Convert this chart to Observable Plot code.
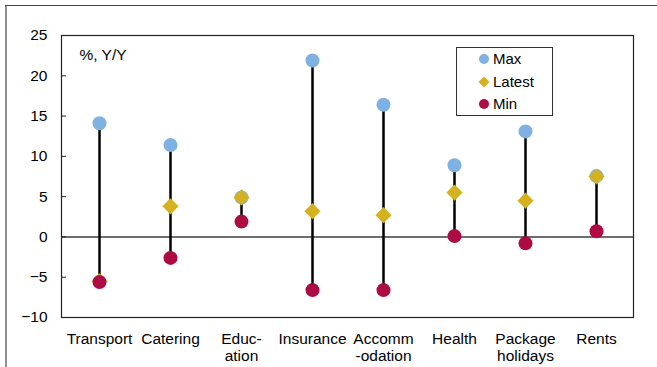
<!DOCTYPE html>
<html><head><meta charset="utf-8">
<script src="https://cdn.jsdelivr.net/npm/d3@7"></script>
<script src="https://cdn.jsdelivr.net/npm/@observablehq/plot@0.6"></script>
<style>
body{margin:0;background:#fff;font-family:"Liberation Sans",Arial,sans-serif;}
#wrap{position:relative;width:657px;height:367px;overflow:hidden;background:#fff;}
#chart{position:absolute;left:0;top:0;}
.frameL{position:absolute;left:5px;top:5px;width:2px;height:362px;background:#8e8e8e;}
.frameT{position:absolute;left:5px;top:5px;width:652px;height:1px;background:#444;}
#legend{position:absolute;left:456px;top:47px;width:97px;height:69px;box-sizing:border-box;border:1px solid #333;background:#fff;}
.item{position:absolute;left:0;height:20px;display:flex;align-items:center;font-size:15px;color:#000;}
.item svg{position:absolute;left:21px;}
.item span{position:absolute;left:36px;white-space:nowrap;line-height:20px;}
</style></head><body>
<div id="wrap"><div id="chart"></div><div class="frameL"></div><div class="frameT"></div><div id="legend"></div></div>
<script>
const categories = ["Transport","Catering","Education","Insurance","Accommodation","Health","Package holidays","Rents"];
const tickLabels = ["Transport","Catering","Educ-\nation","Insurance","Accomm\n-odation","Health","Package\nholidays","Rents"];
const maxValues = [14.1, 11.4, 4.9, 21.9, 16.4, 8.9, 13.1, 7.55];
const latestValues = [-5.5, 3.8, 4.9, 3.2, 2.7, 5.5, 4.5, 7.5];
const minValues = [-5.6, -2.6, 1.9, -6.6, -6.6, 0.1, -0.8, 0.7];
const yTicks = [-10, -5, 0, 5, 10, 15, 20, 25];
const unitLabel = "%, Y/Y";
const legendNames = ["Max", "Latest", "Min"];

const colMax = "#7fb2e2", colLatest = "#d6b11f", colMin = "#ae0b44";

const data = categories.map((c, i) => ({cat: c, max: maxValues[i], latest: latestValues[i], min: minValues[i]}));

const chart = Plot.plot({
  width: 657, height: 367,
  marginLeft: 61, marginRight: 24, marginTop: 35, marginBottom: 50,
  style: {fontFamily: "'Liberation Sans', Arial, sans-serif", fontSize: "15.5px", color: "#000", background: "transparent"},
  x: {type: "point", domain: categories, padding: 0.5, label: null},
  y: {domain: [-10, 25], label: null},
  marks: [
    Plot.ruleY([0], {stroke: "#6e6e6e", strokeWidth: 2}),
    Plot.ruleX(data, {x: "cat", y1: "min", y2: "max", stroke: "#000", strokeWidth: 2.5}),
    Plot.dot(data, {x: "cat", y: "max", r: 7, fill: colMax, stroke: null}),
    Plot.dot(data, {x: "cat", y: "latest", r: 7.3, symbol: "diamond2", fill: colLatest, stroke: null}),
    Plot.dot(data, {x: "cat", y: "min", r: 7, fill: colMin, stroke: null}),
    Plot.axisY(yTicks, {tickSize: 5, dx: 5, tickPadding: 14, stroke: "#222"}),
    Plot.axisX({tickSize: 0, tickPadding: 15, lineHeight: 1.08, tickFormat: d => tickLabels[categories.indexOf(d)]}),
    Plot.text([unitLabel], {frameAnchor: "top-left", dx: 18, dy: 20, textAnchor: "start", lineAnchor: "middle"}),
    Plot.frame({stroke: "#222", strokeWidth: 1.2})
  ]
});
document.getElementById("chart").appendChild(chart);

const legend = document.getElementById("legend");
const symbols = [
  {name: legendNames[0], color: colMax, shape: "circle"},
  {name: legendNames[1], color: colLatest, shape: "diamond"},
  {name: legendNames[2], color: colMin, shape: "circle"}
];
const rowTops = [1, 24, 46];
symbols.forEach((s, i) => {
  const div = document.createElement("div");
  div.className = "item";
  div.style.top = rowTops[i] + "px";
  const shape = s.shape === "circle"
    ? `<circle cx="6" cy="6" r="5" fill="${s.color}"/>`
    : `<path d="M6,0.5L11.5,6L6,11.5L0.5,6Z" fill="${s.color}"/>`;
  div.innerHTML = `<svg width="12" height="12" viewBox="0 0 12 12" style="top:4px">${shape}</svg><span>${s.name}</span>`;
  legend.appendChild(div);
});
</script>
</body></html>
